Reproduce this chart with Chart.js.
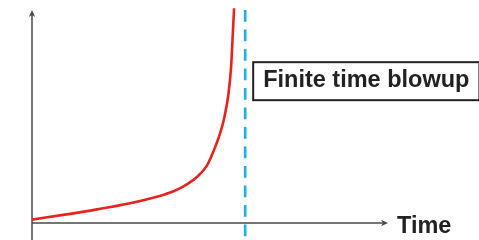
<!DOCTYPE html>
<html>
<head>
<meta charset="utf-8">
<script src="https://cdn.jsdelivr.net/npm/chart.js@4/dist/chart.umd.min.js"></script>
<style>
  html, body { margin: 0; padding: 0; background: #fff; }
  #wrap { width: 479px; height: 240px; position: relative; }
</style>
</head>
<body>
<div id="wrap"><canvas id="blowup"></canvas></div>
<script>
// growth curve (time, value), blows up near t = 1
const curveT = [0, 0.146, 0.305, 0.460, 0.615, 0.648, 0.709, 0.775, 0.822, 0.851, 0.883, 0.903, 0.922, 0.934, 0.942, 0.948];
const curveV = [0.16, 0.38, 0.64, 0.93, 1.32, 1.43, 1.71, 2.17, 2.72, 3.36, 4.23, 4.99, 6.09, 7.34, 8.91, 10.08];

// blowup time and the extent of the dashed marker
const blowupT = 1;
const markerV = [10, -0.66];

const xMax = 1.67;
const yMax = 10;
const labels = { axis: "Time", box: "Finite time blowup" };

const AXIS = "#4a4a4a";
const TEXT = "#222";
const FONT = "bold 23.5px 'Liberation Sans', Arial, sans-serif";

function arrowHead(ctx, x, y, angle) {
  ctx.save();
  ctx.translate(x, y);
  ctx.rotate(angle);
  ctx.beginPath();
  ctx.moveTo(0, 0);
  ctx.lineTo(-7, -3.2);
  ctx.lineTo(-5, 0);
  ctx.lineTo(-7, 3.2);
  ctx.closePath();
  ctx.fill();
  ctx.restore();
}

const decorations = {
  id: "decorations",
  beforeDatasetsDraw(chart) {
    const { ctx, scales: { x, y } } = chart;
    const ox = x.getPixelForValue(0), oy = y.getPixelForValue(0);
    const tx = x.getPixelForValue(xMax), ty = y.getPixelForValue(yMax);
    ctx.save();
    ctx.strokeStyle = AXIS;
    ctx.fillStyle = AXIS;
    ctx.lineWidth = 1.5;
    ctx.beginPath();
    ctx.moveTo(ox, chart.height);
    ctx.lineTo(ox, ty + 2);
    ctx.moveTo(ox, oy);
    ctx.lineTo(tx - 2, oy);
    ctx.stroke();
    arrowHead(ctx, ox, ty, -Math.PI / 2);
    arrowHead(ctx, tx, oy, 0);
    ctx.restore();
  },
  afterDraw(chart) {
    const { ctx, scales: { x, y } } = chart;
    const tx = x.getPixelForValue(xMax), oy = y.getPixelForValue(0);
    ctx.save();
    ctx.font = FONT;
    ctx.fillStyle = TEXT;
    ctx.textBaseline = "alphabetic";
    ctx.fillText(labels.axis, tx + 9, oy + 10);

    // boxed label right of the blowup line
    const bx = x.getPixelForValue(blowupT) + 8;
    const by = y.getPixelForValue(7.55);
    const w = ctx.measureText(labels.box).width;
    ctx.strokeStyle = TEXT;
    ctx.lineWidth = 2;
    ctx.strokeRect(bx, by, w + 20, 38);
    ctx.fillText(labels.box, bx + 10, by + 25);
    ctx.restore();
  }
};

new Chart(document.getElementById("blowup"), {
  type: "line",
  data: {
    datasets: [
      {
        data: curveT.map((t, i) => ({ x: t, y: curveV[i] })),
        borderColor: "#e8231f",
        borderWidth: 2.6,
        pointRadius: 0,
        cubicInterpolationMode: "monotone",
        clip: false
      },
      {
        data: markerV.map(v => ({ x: blowupT, y: v })),
        borderColor: "#1aafe6",
        borderWidth: 2.6,
        borderDash: [11.7, 7.8],
        pointRadius: 0,
        clip: false
      }
    ]
  },
  options: {
    responsive: true,
    maintainAspectRatio: false,
    animation: false,
    layout: { padding: { left: 32, top: 10, right: 91, bottom: 17 } },
    plugins: { legend: { display: false }, tooltip: { enabled: false } },
    scales: {
      x: { type: "linear", min: 0, max: xMax, display: false },
      y: { type: "linear", min: 0, max: yMax, display: false }
    }
  },
  plugins: [decorations]
});
</script>
</body>
</html>
